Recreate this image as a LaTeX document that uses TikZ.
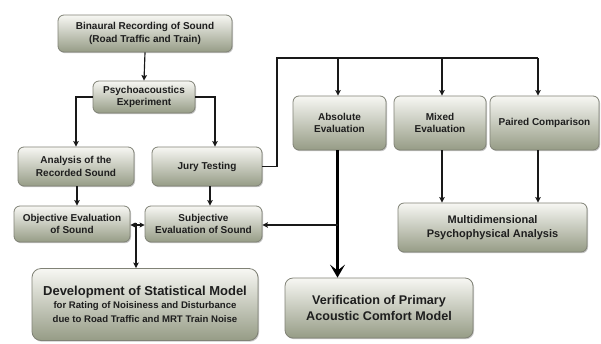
\documentclass[tikz,border=0pt]{standalone}
\usepackage{fontspec}
\setmainfont{Liberation Sans}
\usetikzlibrary{arrows.meta,shadows}
\definecolor{boxtop}{RGB}{247,247,243}
\definecolor{boxmid}{RGB}{216,218,206}
\definecolor{boxbot}{RGB}{150,156,134}
\definecolor{boxline}{RGB}{128,130,118}
\definecolor{txt}{RGB}{30,30,30}
\begin{document}
\begin{tikzpicture}[x=1pt,y=-1pt,
  box/.style={draw=boxline, line width=0.8pt, rounded corners=6pt,
    top color=boxtop, middle color=boxmid, bottom color=boxbot, align=center, inner sep=0pt,
    font=\fontsize{10}{12.5}\selectfont\bfseries, text=txt,
    drop shadow={shadow xshift=1pt, shadow yshift=-1.2pt, opacity=0.22, fill=black}},
  conn/.style={line width=1.15pt, draw=black!90},
  arr/.style={conn, -{Stealth[length=5.5pt,width=5.5pt,inset=1pt]}},
  bigarr/.style={line width=3.2pt, -{Stealth[length=13pt,width=15pt,inset=6pt]}}
]
\useasboundingbox (0,0) rectangle (601,343);
\fill[white] (0,0) rectangle (601,343);

\node[box, minimum width=174pt, minimum height=37pt] (bin) at (145,33.5)
  {Binaural Recording of Sound\\(Road Traffic and Train)};
\node[box, minimum width=102pt, minimum height=32pt] (psy) at (144,97)
  {Psychoacoustics\\Experiment};
\node[box, minimum width=116pt, minimum height=39pt] (ana) at (76,166.5)
  {Analysis of the\\Recorded Sound};
\node[box, minimum width=110pt, minimum height=39pt] (jury) at (207,166.5)
  {Jury Testing};
\node[box, minimum width=93pt, minimum height=54pt] (abs) at (339.5,123)
  {Absolute\\Evaluation};
\node[box, minimum width=92pt, minimum height=54pt] (mix) at (440,123)
  {Mixed\\Evaluation};
\node[box, minimum width=109pt, minimum height=54pt] (pair) at (544.5,123)
  {Paired Comparison};
\node[box, minimum width=116pt, minimum height=36pt] (obj) at (72,224)
  {Objective Evaluation\\of Sound};
\node[box, minimum width=117pt, minimum height=36pt] (subj) at (203.5,224)
  {Subjective\\Evaluation of Sound};
\node[box, minimum width=226pt, minimum height=72pt, rounded corners=9pt,
      font=\fontsize{13}{14}\selectfont\bfseries] (dev) at (145,304.5)
  {Development of Statistical Model\\[-1pt]
   \fontsize{9.6}{12.6}\selectfont for Rating of Noisiness and Disturbance\\
   \fontsize{9.6}{12.6}\selectfont due to Road Traffic and MRT Train Noise};
\node[box, minimum width=189pt, minimum height=49pt, font=\fontsize{11}{13.6}\selectfont\bfseries] (multi) at (492.5,227.5)
  {Multidimensional\\Psychophysical Analysis};
\node[box, minimum width=188pt, minimum height=60pt, rounded corners=8pt, font=\fontsize{12.6}{15.8}\selectfont\bfseries] (ver) at (379,308)
  {Verification of Primary\\Acoustic Comfort Model};

% connectors
\draw[arr] (bin.south) -- (psy.north);
\draw[arr] (psy.west) -| (ana.north);
\draw[arr] (psy.east) -| ([xshift=8pt]jury.north);
\draw[arr] ([xshift=1pt]ana.south) -- ([xshift=1pt]ana.south |- obj.north);
\draw[arr] ([xshift=3pt]jury.south) -- ([xshift=3pt]jury.south |- subj.north);

\coordinate (tl) at (277,58);
\coordinate (tr) at (538,58);
\draw[conn] (jury.east) -| (tl) -- (tr);
\draw[arr] ([xshift=-1.5pt]abs.north |- tl) -- ([xshift=-1.5pt]abs.north);
\draw[arr] ([xshift=2pt]mix.north |- tl) -- ([xshift=2pt]mix.north);
\draw[arr] (tr) -- (tr |- pair.north);

\draw[conn, {Stealth[length=5pt,width=5pt,inset=1pt]}-{Stealth[length=5pt,width=5pt,inset=1pt]}]
  ([yshift=-1pt]obj.east) -- ([yshift=-1pt]subj.west);
\coordinate (mid) at (136,223);
\draw[arr] (mid) -- (mid |- dev.north);

\coordinate (absb) at (337.5,150);
\draw[bigarr] (absb) -- (absb |- ver.north);
\coordinate (br) at (337.5,225);
\draw[arr] (br) -- (br -| subj.east);

\draw[arr] ([xshift=2pt]mix.south) -- ([xshift=2pt]mix.south |- multi.north);
\draw[arr] ([xshift=-6.5pt]pair.south) -- ([xshift=-6.5pt]pair.south |- multi.north);
\end{tikzpicture}
\end{document}
